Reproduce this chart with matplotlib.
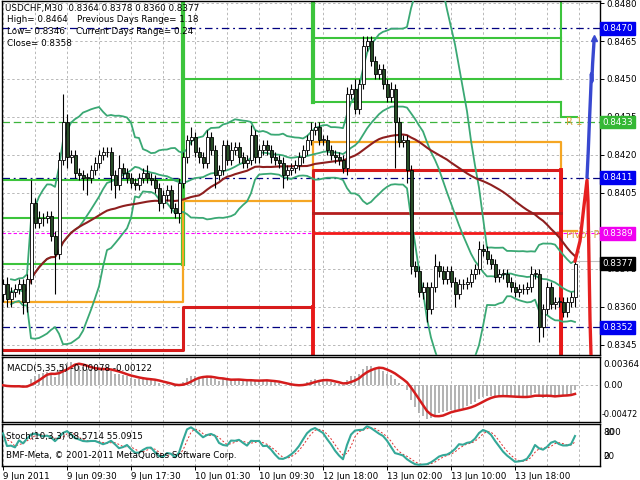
import numpy as np
import pandas as pd
import matplotlib
matplotlib.use("Agg")
import matplotlib.pyplot as plt
from matplotlib.transforms import blended_transform_factory as blend

# ---------------- data ----------------
closes = [
    0.8369, 0.8363, 0.8366, 0.8367, 0.8369, 0.8362, 0.8371, 0.8401,
    0.8393, 0.8395, 0.8395, 0.8396, 0.8388, 0.8381, 0.8418, 0.8433,
    0.8419, 0.8420, 0.8413, 0.8412, 0.8411, 0.8411, 0.8414, 0.8417,
    0.8420, 0.8421, 0.8421, 0.8412, 0.8408, 0.8415, 0.8413, 0.8411,
    0.8409, 0.8408, 0.8411, 0.8413, 0.8411, 0.8410, 0.8407, 0.8401,
    0.8404, 0.8406, 0.8399, 0.8397, 0.8409, 0.8419, 0.8426, 0.8427,
    0.8421, 0.8419, 0.8417, 0.8427, 0.8422, 0.8412, 0.8414, 0.8424,
    0.8418, 0.8422, 0.8423, 0.8419, 0.8417, 0.8418, 0.8428, 0.8419,
    0.8422, 0.8424, 0.8422, 0.8419, 0.8418, 0.8417, 0.8412, 0.8414,
    0.8415, 0.8416, 0.8419, 0.8422, 0.8426, 0.8430, 0.8431, 0.8426,
    0.8426, 0.8422, 0.8420, 0.8419, 0.8418, 0.8415, 0.8444, 0.8446,
    0.8438, 0.8448, 0.8463, 0.8465, 0.8457, 0.8452, 0.8454, 0.8448,
    0.8443, 0.8446, 0.8433, 0.8425, 0.8426, 0.8414, 0.8376, 0.8374,
    0.8366, 0.8368, 0.8359, 0.8368, 0.8376, 0.8374, 0.8371, 0.8374,
    0.8370, 0.8365, 0.8369, 0.8369, 0.8370, 0.8373, 0.8375, 0.8383,
    0.8382, 0.8379, 0.8377, 0.8372, 0.8373, 0.8373, 0.8370, 0.8368,
    0.8366, 0.8367, 0.8367, 0.8368, 0.8373, 0.8373, 0.8352, 0.8359,
    0.8368, 0.8361, 0.8362, 0.8362, 0.8358, 0.8362, 0.8364, 0.8377,
]
first_open = 0.8365
# wick lengths in pips above / below the body
up_wick = [
    2, 3, 2, 2, 2, 2, 2, 9,   2, 3, 2, 2, 2, 2, 3, 11,
    3, 2, 2, 2, 2, 2, 2, 2,   2, 2, 2, 2, 2, 5, 2, 2,
    2, 2, 2, 2, 3, 2, 2, 2,   2, 2, 2, 2, 2, 2, 2, 4,
    2, 2, 2, 3, 2, 2, 2, 2,   2, 3, 2, 2, 2, 2, 4, 2,
    2, 2, 2, 2, 2, 2, 2, 2,   2, 2, 2, 2, 2, 3, 2, 2,
    2, 2, 2, 2, 2, 2, 3, 2,   4, 2, 4, 2, 2, 2, 2, 2,
    2, 3, 2, 2, 2, 2, 2, 2,   2, 2, 2, 2, 5, 2, 2, 2,
    2, 2, 2, 2, 2, 2, 2, 3,   2, 2, 2, 2, 2, 2, 2, 2,
    2, 2, 2, 2, 3, 2, 2, 2,   2, 2, 2, 2, 2, 2, 2, 1,
]
dn_wick = [
    3, 3, 3, 2, 2, 5, 4, 2,   2, 2, 3, 2, 2, 16, 2, 2,
    4, 2, 2, 2, 5, 7, 2, 2,   2, 2, 2, 6, 5, 2, 2, 2,
    2, 2, 2, 2, 2, 2, 2, 3,   2, 2, 2, 2, 4, 2, 2, 2,
    2, 2, 2, 2, 2, 5, 2, 2,   2, 2, 2, 2, 2, 2, 2, 2,
    2, 2, 2, 2, 2, 2, 5, 2,   2, 2, 2, 2, 2, 2, 2, 2,
    2, 2, 2, 2, 2, 2, 3, 2,   2, 2, 2, 2, 2, 2, 2, 2,
    2, 2, 18, 2, 2, 5, 3, 2,  2, 3, 5, 2, 2, 2, 2, 2,
    2, 5, 2, 2, 2, 2, 2, 2,   2, 2, 2, 2, 2, 2, 2, 2,
    2, 2, 2, 2, 2, 2, 6, 4,   2, 2, 2, 2, 2, 2, 2, 4,
]

tick_bars = [0, 16, 32, 48, 64, 80, 96, 112, 128]
tick_labels = ['9 Jun 2011', '9 Jun 09:30', '9 Jun 17:30', '10 Jun 01:30',
               '10 Jun 09:30', '12 Jun 18:00', '13 Jun 02:00', '13 Jun 10:00',
               '13 Jun 18:00']

day_edges = [-0.5, 45, 77.5, 139.5, 143.6]
green_segments = [(0, 1, 0.8410), (0, 1, 0.8395), (0, 1, 0.8377),
                  (1, 2, 0.8450), (2, 3, 0.8466), (2, 3, 0.8450),
                  (2, 3, 0.8441), (3, 4, 0.8435)]
green_verticals = [(1, 0.8377, 0.8490), (2, 0.8441, 0.8490),
                   (3, 0.8450, 0.8490), (3, 0.8435, 0.8441)]
orange_levels = [0.8362, 0.8402, 0.8425, 0.8390]
red_levels = [0.8343, 0.8360, 0.8414]
red_extra = [(0.8397, '#b41e1e'), (0.8389, '#f21a1a')]
navy_lines = [0.8470, 0.8411, 0.8352]
magenta_line = 0.8389
r1_line = 0.8433
price_tags = [('0.8470', 0.8470, '#0000f0'), ('0.8433', 0.8433, '#34b834'),
              ('0.8411', 0.8411, '#0000f0'), ('0.8389', 0.8389, '#f000f0'),
              ('0.8377', 0.8377, '#000000'), ('0.8352', 0.8352, '#0000f0')]
price_ticks = [0.8345, 0.8360, 0.8375, 0.8390, 0.8405, 0.8420, 0.8435,
               0.8450, 0.8465, 0.8480]

blue_x = [146.0, 146.3, 146.6, 146.9, 147.1, 147.2, 147.4, 147.6, 147.8]
blue_y = [0.8411, 0.8421, 0.8433, 0.8444, 0.8452, 0.8449, 0.8456, 0.8461, 0.8466]
red_x = [143.0, 144.25, 145.25, 146.0, 146.25, 146.5, 146.75, 147.0]
red_y = [0.8378, 0.8386, 0.8400, 0.8410, 0.8402, 0.8378, 0.8355, 0.8341]

# ---------------- derived series ----------------
c = pd.Series(closes)
n = len(c)
x = np.arange(n)
opens = np.array([first_open] + closes[:-1])
cl = np.array(closes)
hi = np.maximum(opens, cl) + np.array(up_wick) * 1e-4
lo = np.minimum(opens, cl) - np.array(dn_wick) * 1e-4

mid = c.rolling(20, min_periods=3).mean()
sd = c.rolling(20, min_periods=3).std(ddof=0)
bb_up, bb_lo = mid + 2 * sd, mid - 2 * sd
sma50 = c.rolling(50, min_periods=1).mean()

macd = c.ewm(span=5, adjust=False).mean() - c.ewm(span=35, adjust=False).mean()
signal = macd.rolling(5, min_periods=1).mean()

H, L = pd.Series(hi), pd.Series(lo)
hh = H.rolling(10, min_periods=1).max()
ll = L.rolling(10, min_periods=1).min()
k = 100 * (c - ll).rolling(3, min_periods=1).sum() / (hh - ll).rolling(3, min_periods=1).sum()
d = k.rolling(3, min_periods=1).mean()

# ---------------- figure ----------------
plt.rcParams['font.family'] = ['DejaVu Sans']
FS = 6.3
fig = plt.figure(figsize=(6.4, 4.8), dpi=100)
W, Hh = 640.0, 480.0
left, width = 2 / W, 598 / W
ax = fig.add_axes([left, 125 / Hh, width, 354 / Hh])
axm = fig.add_axes([left, 58 / Hh, width, 65 / Hh])
axs = fig.add_axes([left, 14 / Hh, width, 42 / Hh])

XL = (-0.25, 149.25)
grid_kw = dict(color='#b8b8b8', lw=0.7, ls=(0, (2.5, 2.5)), zorder=0.5)
for a in (ax, axm, axs):
    a.set_xlim(*XL)
    for s in a.spines.values():
        s.set_color('black')
        s.set_linewidth(1.0)
    for g in range(0, 150, 8):
        a.axvline(g, **grid_kw)
    a.set_xticks([])

# main panel
ax.set_ylim(0.83410, 0.84808)
for p in price_ticks:
    ax.axhline(p, **grid_kw)
ax.yaxis.tick_right()
ax.set_yticks(price_ticks)
ax.set_yticklabels(['%.4f' % p for p in price_ticks], fontsize=FS)
ax.tick_params(axis='y', length=3, pad=1.5, width=0.7)

# level lines
for s0, s1, p in green_segments:
    ax.plot([day_edges[s0], day_edges[s1]], [p, p], color='#3cc43c', lw=1.5, zorder=2)
for e, p0, p1 in green_verticals:
    ax.plot([day_edges[e], day_edges[e]], [p0, p1], color='#3cc43c',
            lw=3.0 if e < 3 else 1.5, zorder=2)
ox, oy = [], []
for i, p in enumerate(orange_levels):
    ox += [day_edges[i], day_edges[i + 1]]
    oy += [p, p]
ax.plot(ox, oy, color='#f5a623', lw=1.6, zorder=2)
rx, ry = [], []
for i, p in enumerate(red_levels):
    rx += [day_edges[i], day_edges[i + 1]]
    ry += [p, p]
rx += [day_edges[3]]
ry += [0.8330]
ax.plot(rx, ry, color='#d81c1c', lw=2.2, zorder=2)
ax.plot([day_edges[2], day_edges[2]], [0.8330, red_levels[1]], color='#e81818', lw=2.8, zorder=2)
ax.plot([day_edges[3], day_edges[3]], [0.8330, red_levels[2]], color='#e81818', lw=2.8, zorder=2)
for p, col in red_extra:
    ax.plot([day_edges[2], day_edges[3]], [p, p], color=col, lw=2.0, zorder=2)

for p in navy_lines:
    ax.axhline(p, color='#000080', lw=0.9, ls=(0, (6, 3, 1.5, 3)), zorder=1.5)
ax.axhline(magenta_line, color='#ff00ff', lw=0.8, ls=(0, (3, 2)), zorder=1.5)
ax.axhline(r1_line, color='#3cb43c', lw=0.9, ls=(0, (6, 3)), zorder=1.5)
ax.plot([143, XL[1]], [0.8378, 0.8378], color='#c0c0c0', lw=0.8, zorder=1.5)

ax.text(140.8, r1_line, 'R 1', color='#d9a640', fontsize=7.2, va='center',
        ha='left', clip_on=True, zorder=3)
ax.text(140.8, magenta_line - 0.00006, 'Pivot P', color='#d9a640', fontsize=7.2,
        va='center', ha='left', clip_on=True, zorder=3)

# indicators
band_col = '#3aa874'
ax.plot(x, bb_up, color=band_col, lw=1.3, zorder=3)
ax.plot(x, mid, color=band_col, lw=1.3, zorder=3)
ax.plot(x, bb_lo, color=band_col, lw=1.3, zorder=3)
ax.plot(x[6:], sma50[6:], color='#8e1f1f', lw=1.5, zorder=3)

# candles
up = cl >= opens
ax.vlines(x, lo, hi, color='black', lw=0.8, zorder=4)
body_h = np.maximum(np.abs(cl - opens), 0.00002)
ax.bar(x, body_h, bottom=np.minimum(opens, cl), width=0.75,
       color=np.where(up, 'white', '#274d27'), edgecolor='black', linewidth=0.6, zorder=5)

# projection lines on the right
ax.plot(blue_x, blue_y, color='#3848d0', lw=2.4, zorder=4, solid_capstyle='round')
ax.plot([blue_x[-1]], [blue_y[-1]], marker='^', ms=5, color='#3848d0', zorder=4)
ax.plot(red_x, red_y, color='#e62020', lw=2.4, zorder=4, solid_capstyle='round')

# price tags
tr = blend(ax.transAxes, ax.transData)
for lab, p, col in price_tags:
    ax.text(1.004, p, lab, transform=tr, color='white', fontsize=FS, va='center',
            ha='left', clip_on=False, zorder=10,
            bbox=dict(boxstyle='square,pad=0.22', fc=col, ec=col))

# MACD panel
axm.set_ylim(-0.00472, 0.00364)
axm.axhline(0, **grid_kw)
axm.bar(x, macd, width=0.35, color='#b4b4b4', zorder=2)
axm.plot(x, signal, color='#d41c1c', lw=1.8, zorder=3)
axm.set_yticks([])
trm = axm.transAxes
axm.text(1.005, 0.877, '0.00364', transform=trm, fontsize=FS, va='center', ha='left')
axm.text(1.005, 0.569, '0.00', transform=trm, fontsize=FS, va='center', ha='left')
axm.text(1.002, 0.108, '-0.00472', transform=trm, fontsize=5.9, va='center', ha='left')
axm.text(0.008, 0.82, 'MACD(5,35,5) -0.00078 -0.00122', transform=trm, fontsize=FS,
         va='center', ha='left', zorder=10)

# Stochastic panel
axs.set_ylim(0, 100)
axs.plot(x, d, color='#e03030', lw=0.7, ls=(0, (2, 2)), zorder=2)
axs.plot(x, k, color='#34a898', lw=1.5, zorder=3)
axs.set_yticks([])
trs = axs.transAxes
for lab in ('100', '80'):
    axs.text(1.006, 0.79, lab, transform=trs, fontsize=FS, va='center', ha='left')
for lab in ('20', '0'):
    axs.text(1.006, 0.22, lab, transform=trs, fontsize=FS, va='center', ha='left')
axs.text(0.006, 0.70, 'Stoch(10,3,3) 68.5714 55.0915', transform=trs, fontsize=FS,
         va='center', ha='left', zorder=10)
axs.text(0.006, 0.24, 'BMF-Meta, \u00a9 2001-2011 MetaQuotes Software Corp.', transform=trs,
         fontsize=FS, va='center', ha='left', zorder=10)
axs.set_xticks(tick_bars)
axs.set_xticklabels(tick_labels, fontsize=FS, ha='left')
axs.tick_params(axis='x', length=3, pad=1.5, width=0.7)

# header text
hdr = [(5, 8, 'USDCHF,M30  0.8364 0.8378 0.8360 0.8377'),
       (7, 20, 'High= 0.8464'), (77, 20, 'Previous Days Range= 1.18'),
       (7, 32, 'Low= 0.8346'), (76, 32, 'Current Days Range= 0.24'),
       (7, 44, 'Close= 0.8358')]
for px, py, s in hdr:
    fig.text(px / W, 1 - py / Hh, s, fontsize=FS, va='center', ha='left', zorder=20)

fig.savefig('out.png', dpi=100)
